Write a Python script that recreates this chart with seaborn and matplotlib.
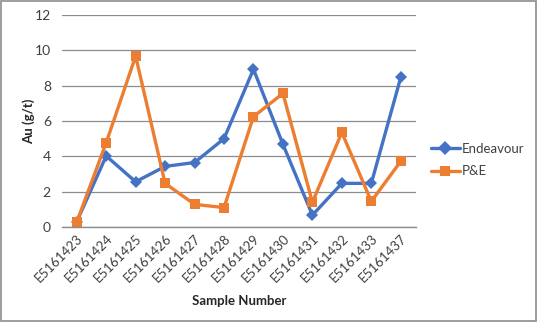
import matplotlib
matplotlib.use("Agg")
import matplotlib.pyplot as plt
import seaborn as sns
import pandas as pd
from matplotlib.ticker import FixedLocator, NullFormatter

samples = ["E5161423", "E5161424", "E5161425", "E5161426", "E5161427", "E5161428",
           "E5161429", "E5161430", "E5161431", "E5161432", "E5161433", "E5161437"]
endeavour = [0.3, 4.02, 2.56, 3.43, 3.65, 5.0, 8.93, 4.68, 0.67, 2.47, 2.47, 8.47]
pe = [0.28, 4.77, 9.67, 2.47, 1.28, 1.1, 6.25, 7.56, 1.4, 5.35, 1.45, 3.72]
series_names = ["Endeavour", "P&E"]
colors = ["#4472C4", "#ED7D31"]
markers = ["D", "s"]

sns.set_theme(style="white")
plt.rcParams['font.family'] = ['Lato', 'DejaVu Sans']

df = pd.DataFrame({
    "Sample Number": samples * 2,
    "Au (g/t)": endeavour + pe,
    "Series": [series_names[0]] * len(samples) + [series_names[1]] * len(samples),
})

fig = plt.figure(figsize=(5.37, 3.22), dpi=100)
ax = fig.add_axes([62/537, 1 - 227/322, (415.5 - 62)/537, (227 - 15)/322])

sns.lineplot(data=df, x="Sample Number", y="Au (g/t)", hue="Series", style="Series",
             palette=colors, markers=markers, dashes=False, linewidth=2.4,
             markersize=6.5, markeredgewidth=0, sort=False, ax=ax)

ax.set_xlim(-0.5, len(samples) - 0.5)
ax.set_ylim(0, 12)
ax.set_yticks(range(0, 13, 2))
ax.yaxis.grid(True, color="#8c8c8c", linewidth=0.9)
ax.set_axisbelow(True)
for s in ["left", "right", "top"]:
    ax.spines[s].set_visible(False)
ax.spines["bottom"].set_color("#8c8c8c")
ax.spines["bottom"].set_linewidth(1.0)

ax.set_xticks(range(len(samples)))
ax.set_xticklabels(samples, rotation=45, ha="right", rotation_mode="anchor",
                   fontsize=9.5, color="#404040")
ax.tick_params(axis="x", which="major", length=0, pad=4)
ax.xaxis.set_minor_locator(FixedLocator([i - 0.5 for i in range(len(samples) + 1)]))
ax.xaxis.set_minor_formatter(NullFormatter())
ax.tick_params(axis="x", which="minor", length=5, color="#8c8c8c", width=1.0)
ax.tick_params(axis="y", length=0, labelsize=10, labelcolor="#404040", pad=8)

ax.set_xlabel("Sample Number", fontsize=9.5, fontweight="bold", color="#262626", labelpad=7)
ax.set_ylabel("Au (g/t)", fontsize=9.5, fontweight="bold", color="#262626", labelpad=0)

leg = ax.legend(loc="center left", bbox_to_anchor=(1.01, 0.315), frameon=False,
                fontsize=9.5, handlelength=2.2, handletextpad=0.15, labelspacing=0.8,
                markerscale=1.15)
for t in leg.get_texts():
    t.set_color("#404040")

fig.patches.append(plt.Rectangle((0.001, 0.002), 0.997, 0.995, transform=fig.transFigure,
                                 fill=False, edgecolor="#8c8c8c", linewidth=1.2))

fig.savefig("out.png", dpi=100)
